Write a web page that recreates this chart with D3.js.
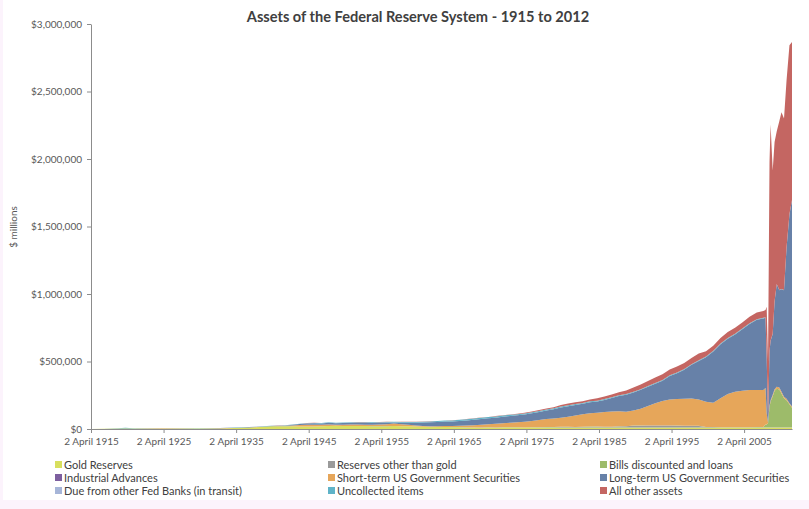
<!DOCTYPE html>
<html>
<head>
<meta charset="utf-8">
<script src="https://cdn.jsdelivr.net/npm/d3@7"></script>
<style>
  body { margin: 0; background: #fcf3fc; }
  svg { display: block; }
  text { font-family: Lato, "Open Sans", sans-serif; }
</style>
</head>
<body>
<div id="chart"></div>
<script>
// Dates as decimal years (first point = early April 1915)
const years = [1915.3, 1917, 1919, 1920, 1921, 1925, 1930, 1933, 1934, 1935,
  1936, 1937, 1938, 1939, 1940, 1941, 1942, 1943, 1944, 1945,
  1946, 1947, 1948, 1949, 1950, 1951, 1952, 1953, 1954, 1955,
  1956, 1957, 1958, 1959, 1960, 1961, 1962, 1963, 1964, 1965,
  1966, 1967, 1968, 1969, 1970, 1971, 1972, 1973, 1974, 1975,
  1976, 1977, 1978, 1979, 1980, 1981, 1982, 1983, 1984, 1985,
  1986, 1987, 1988, 1989, 1990, 1991, 1992, 1993, 1994, 1995,
  1996, 1997, 1998, 1999, 2000, 2001, 2002, 2003, 2004, 2005,
  2006, 2007,
  2007.9, 2008.2, 2008.36, 2008.55, 2008.75, 2008.9, 2009.19, 2009.45, 2009.75,
  2010.1, 2010.4, 2010.75, 2011.1, 2011.5, 2011.85];

// $ millions
const goldReserves = [250, 1000, 2100, 2000, 2400, 2800, 3000, 3500, 5000, 7000,
  8500, 11000, 13000, 16000, 19500, 21000, 21000, 20500, 19000, 18000,
  18500, 20000, 22500, 23500, 22500, 21500, 22000, 21500, 21000, 21000,
  21000, 22000, 20500, 19500, 18000, 16500, 15500, 15000, 15000, 13500,
  13000, 12000, 10500, 10000, 11000, 10000, 10400, 11000, 11000, 11000,
  11000, 11000, 11000, 11000, 11000, 11000, 11000, 11000, 11000, 11000,
  11000, 11000, 11000, 11000, 11000, 11000, 11000, 11000, 11000, 11000,
  11000, 11000, 11000, 11000, 11000, 11000, 11000, 11000, 11000, 11000,
  11000, 11000,
  11000, 11000, 11000, 11000, 11000, 11000, 11000, 11000, 11000,
  11000, 11000, 11000, 11000, 11000, 11000];

const otherReserves = [30, 50, 60, 100, 150, 150, 150, 200, 200, 250,
  250, 300, 300, 300, 300, 300, 300, 300, 300, 300,
  300, 300, 300, 300, 300, 300, 300, 300, 300, 300,
  300, 300, 300, 300, 300, 300, 300, 300, 300, 300,
  300, 300, 300, 300, 700, 800, 800, 800, 800, 800,
  1000, 1500, 2000, 2500, 3000, 3500, 4000, 4500, 4500, 5000,
  5000, 5500, 7000, 9000, 14000, 14000, 14500, 14500, 14500, 14500,
  14000, 13500, 13000, 12000, 3000, 3000, 2500, 2500, 2500, 2500,
  2500, 2500,
  2200, 2200, 2200, 2200, 2200, 2200, 2200, 2200, 2200,
  2200, 2200, 2200, 2200, 2200, 2200];

const billsLoans = [30, 300, 2000, 2700, 1200, 500, 300, 100, 20, 10,
  10, 20, 10, 10, 10, 10, 10, 20, 100, 300,
  200, 100, 300, 100, 100, 300, 200, 500, 200, 500,
  700, 600, 300, 800, 100, 100, 300, 300, 300, 500,
  600, 200, 700, 1000, 400, 100, 1000, 1300, 1000, 200,
  100, 300, 1200, 1500, 2000, 1500, 700, 900, 3500, 3000,
  1500, 800, 2000, 600, 200, 300, 300, 100, 200, 200,
  100, 100, 200, 300, 100, 200, 100, 100, 100, 100,
  200, 400,
  1000, 20000, 20000, 30000, 150000, 190000, 230000, 270000, 285000,
  280000, 250000, 215000, 200000, 170000, 145000];

const industrialAdvances = [0, 0, 0, 0, 0, 0, 0, 0, 10, 30,
  25, 20, 17, 12, 9, 10, 12, 10, 5, 3,
  1, 1, 1, 2, 3, 4, 3, 3, 2, 1,
  1, 1, 0, 0, 0, 0, 0, 0, 0, 0,
  0, 0, 0, 0, 0, 0, 0, 0, 0, 0,
  0, 0, 0, 0, 0, 0, 0, 0, 0, 0,
  0, 0, 0, 0, 0, 0, 0, 0, 0, 0,
  0, 0, 0, 0, 0, 0, 0, 0, 0, 0,
  0, 0,
  0, 0, 0, 0, 0, 0, 0, 0, 0,
  0, 0, 0, 0, 0, 0];

const shortTermSec = [0, 100, 200, 100, 100, 100, 300, 1500, 1500, 300,
  500, 600, 600, 600, 700, 800, 2000, 6000, 10000, 12000,
  13000, 11000, 11000, 8000, 9000, 11000, 10500, 10000, 9500, 11000,
  14000, 17000, 14000, 11000, 8000, 6000, 5000, 5000, 6000, 7000,
  10000, 13000, 16000, 20000, 24000, 28000, 31000, 34000, 38000, 42000,
  48000, 54000, 60000, 63000, 68000, 75000, 85000, 92000, 98000, 102000,
  108000, 112000, 112000, 108000, 112000, 125000, 145000, 165000, 182000, 192000,
  198000, 200000, 201000, 196000, 188000, 180000, 215000, 245000, 262000, 270000,
  275000, 275000,
  275000, 270000, 85000, 5000, 10000, 10000, 10000, 12000, 15000,
  15000, 12000, 10000, 10000, 8000, 8000];

const longTermSec = [10, 100, 100, 200, 200, 300, 400, 2500, 2500, 2000,
  1800, 2000, 2000, 2000, 1800, 1500, 2500, 4000, 7000, 10000,
  10000, 10000, 12000, 11000, 12000, 12500, 13000, 14000, 14000, 13500,
  11500, 8500, 12000, 15000, 20000, 25000, 28000, 31000, 34000, 35000,
  36000, 38000, 41000, 42000, 43000, 45000, 47000, 49000, 51000, 54000,
  57000, 60000, 63000, 68000, 76000, 78000, 78000, 78000, 82000, 83000,
  90000, 100000, 113000, 125000, 133000, 140000, 142000, 145000, 150000, 175000,
  190000, 215000, 250000, 285000, 330000, 380000, 400000, 410000, 425000, 455000,
  490000, 520000,
  530000, 520000, 415000, 20000, 400000, 440000, 450000, 650000, 760000,
  720000, 760000, 790000, 1120000, 1400000, 1530000];

const dueFromBanks = [0, 50, 50, 100, 50, 30, 30, 20, 20, 20,
  300, 300, 200, 200, 100, 20, 20, 20, 20, 20,
  20, 20, 20, 20, 20, 20, 20, 20, 20, 20,
  20, 20, 20, 20, 20, 20, 20, 20, 20, 20,
  20, 20, 20, 20, 20, 0, 0, 0, 0, 0,
  0, 0, 0, 0, 0, 0, 0, 0, 0, 0,
  0, 0, 0, 0, 0, 0, 0, 0, 0, 0,
  0, 0, 0, 0, 0, 0, 0, 0, 0, 0,
  0, 0,
  0, 0, 0, 0, 0, 0, 0, 0, 0,
  0, 0, 0, 0, 0, 0];

const uncollectedItems = [20, 200, 600, 4000, 600, 700, 600, 400, 500, 600,
  1000, 1000, 1000, 1000, 1000, 1300, 1500, 1800, 2000, 2500,
  3000, 3000, 3000, 3000, 4000, 4000, 4500, 4500, 4500, 4500,
  5000, 5000, 5000, 5500, 6000, 6000, 6500, 7000, 7000, 7500,
  8000, 8500, 9000, 9500, 9000, 9500, 9000, 9000, 8000, 7000,
  7000, 7000, 7000, 7500, 7500, 7000, 7000, 7000, 6000, 6000,
  6000, 5000, 5000, 5000, 5000, 5000, 5000, 5000, 5000, 5000,
  5000, 5000, 5000, 5000, 5000, 5000, 5000, 5000, 5000, 5000,
  5000, 4000,
  4000, 4000, 3000, 2000, 2000, 2000, 1500, 1500, 1500,
  1000, 1000, 1000, 1000, 1000, 1000];

const allOtherAssets = [20, 100, 200, 300, 200, 100, 100, 100, 100, 100,
  100, 200, 200, 200, 200, 200, 300, 300, 400, 500,
  500, 500, 500, 500, 600, 600, 700, 700, 700, 800,
  800, 900, 900, 1000, 1000, 1000, 1000, 1100, 1200, 1300,
  1300, 1400, 1400, 1500, 1500, 2000, 2500, 3000, 3500, 5000,
  6000, 6500, 7000, 8000, 10000, 12000, 12000, 13000, 14000, 18000,
  20000, 22000, 22000, 27000, 32000, 35000, 38000, 40000, 42000, 43000,
  45000, 45000, 45000, 50000, 38000, 38000, 40000, 45000, 45000, 45000,
  48000, 50000,
  50000, 55000, 370000, 430000, 1400000, 1600000, 1210000, 1180000, 1130000,
  1250000, 1310000, 1270000, 1240000, 1250000, 1170000];

const seriesNames = ["Gold Reserves", "Reserves other than gold", "Bills discounted and loans",
  "Industrial Advances", "Short-term US Government Securities", "Long-term US Government Securities",
  "Due from other Fed Banks (in transit)", "Uncollected items", "All other assets"];
const seriesValues = [goldReserves, otherReserves, billsLoans, industrialAdvances,
  shortTermSec, longTermSec, dueFromBanks, uncollectedItems, allOtherAssets];
const seriesColors = ["#d8df5e", "#9a9a9a", "#9dbb6a", "#7d5f9f", "#e6a65a",
  "#6781a8", "#a6b5d8", "#5fb3c8", "#c46662"];

const yTicks = [0, 500000, 1000000, 1500000, 2000000, 2500000, 3000000];
const xTicks = [1915.25, 1925.25, 1935.25, 1945.25, 1955.25, 1965.25, 1975.25, 1985.25, 1995.25, 2005.25];

const width = 809, height = 509;

const svg = d3.select("#chart").append("svg")
  .attr("width", width)
  .attr("height", height);

// white chart area over the pale page
svg.append("rect")
  .attr("x", 3).attr("y", 0)
  .attr("width", width - 3).attr("height", 500)
  .attr("fill", "#ffffff");

// Table for the stack
const table = years.map((yr, i) => {
  const row = { year: yr };
  seriesNames.forEach((name, k) => { row[name] = seriesValues[k][i]; });
  return row;
});

const x = d3.scaleLinear()
  .domain([1915.25, 2011.85])
  .range([91, 792]);

const y = d3.scaleLinear()
  .domain([0, 3000000])
  .range([429, 24]);

const color = d3.scaleOrdinal()
  .domain(seriesNames)
  .range(seriesColors);

const stack = d3.stack().keys(seriesNames);
const layers = stack(table);

const area = d3.area()
  .x(d => x(d.data.year))
  .y0(d => y(d[0]))
  .y1(d => y(d[1]));

svg.append("g")
  .selectAll("path")
  .data(layers)
  .join("path")
  .attr("d", area)
  .attr("fill", d => color(d.key));

// Axes
const yAxis = svg.append("g")
  .attr("transform", "translate(91,0)")
  .call(d3.axisLeft(y).tickValues(yTicks).tickSize(4).tickSizeOuter(0)
    .tickFormat(d3.format("$,")));

const xAxis = svg.append("g")
  .attr("transform", "translate(0,429)")
  .call(d3.axisBottom(x).tickValues(xTicks).tickSize(4).tickSizeOuter(0)
    .tickFormat(d => "2 April " + Math.floor(d)));

[yAxis, xAxis].forEach(g => {
  g.select(".domain").attr("stroke", "#8c8c8c");
  g.selectAll(".tick line").attr("stroke", "#8c8c8c");
  g.selectAll(".tick text")
    .attr("fill", "#595959")
    .style("font-size", "10px");
});
yAxis.selectAll(".tick text").attr("x", -9);
xAxis.selectAll(".tick text").attr("y", 9);

// Title
svg.append("text")
  .attr("x", 418)
  .attr("y", 22)
  .attr("text-anchor", "middle")
  .attr("fill", "#404040")
  .style("font-size", "14.6px")
  .style("font-weight", "bold")
  .text("Assets of the Federal Reserve System - 1915 to 2012");

// Y label
svg.append("text")
  .attr("transform", "translate(17,227) rotate(-90)")
  .attr("text-anchor", "middle")
  .attr("fill", "#595959")
  .style("font-size", "10px")
  .text("$ millions");

// Legend: 3 columns x 3 rows
const legendX = [55, 328, 600];
const legendY = [465, 478, 491];
const legend = svg.append("g")
  .selectAll("g")
  .data(seriesNames)
  .join("g")
  .attr("transform", (d, i) => `translate(${legendX[i % 3]},${legendY[Math.floor(i / 3)]})`);

legend.append("rect")
  .attr("x", 0).attr("y", -4)
  .attr("width", 7).attr("height", 7)
  .attr("fill", d => color(d));

legend.append("text")
  .attr("x", 9)
  .attr("y", 4)
  .attr("fill", "#404040")
  .style("font-size", "11px")
  .text(d => d);
</script>
</body>
</html>
